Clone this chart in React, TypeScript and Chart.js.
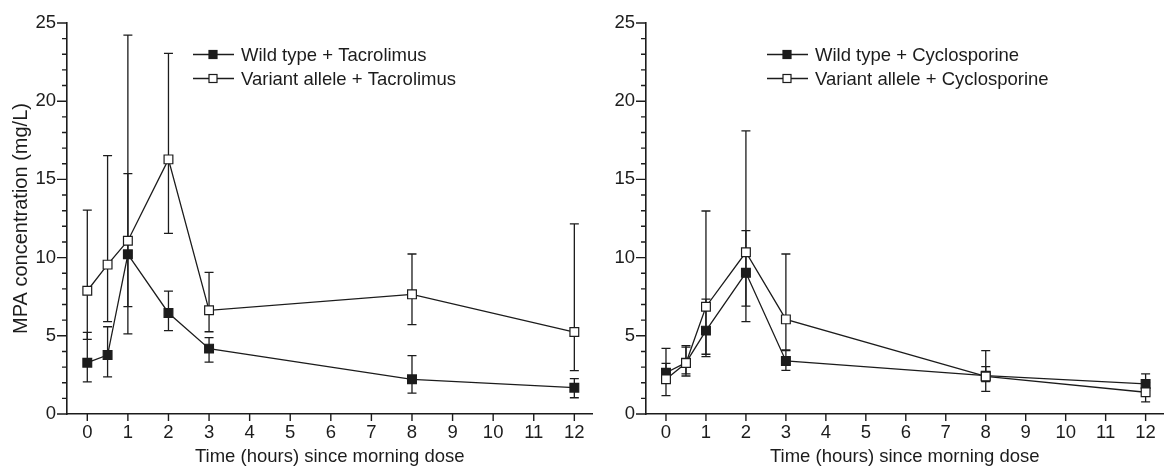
import React, { useEffect, useRef } from "react";
import { Chart, registerables } from "chart.js";

Chart.register(...registerables);

// ---------- data ----------
const TIMES = [0, 0.5, 1, 2, 3, 8, 12];
const X_TICKS = [0, 1, 2, 3, 4, 5, 6, 7, 8, 9, 10, 11, 12];
const Y_TICKS = [0, 5, 10, 15, 20, 25];
const Y_MINOR = [0, 1, 2, 3, 4, 5, 6, 7, 8, 9, 10, 11, 12, 13, 14, 15, 16, 17, 18, 19, 20, 21, 22, 23, 24, 25];

const X_TITLE = "Time (hours) since morning dose";
const Y_TITLE = "MPA concentration (mg/L)";

// Tacrolimus panel
const WT_TAC_LABEL = "Wild type + Tacrolimus";
const WT_TAC = [3.28, 3.77, 10.21, 6.46, 4.18, 2.22, 1.68];
const WT_TAC_LOW = [2.05, 2.38, 5.12, 5.33, 3.32, 1.34, 1.04];
const WT_TAC_HIGH = [5.22, 5.58, 15.37, 7.86, 4.88, 3.73, 2.26];

const VAR_TAC_LABEL = "Variant allele + Tacrolimus";
const VAR_TAC = [7.88, 9.55, 11.08, 16.28, 6.63, 7.65, 5.24];
const VAR_TAC_LOW = [4.77, 5.9, 6.86, 11.55, 5.26, 5.71, 2.77];
const VAR_TAC_HIGH = [13.04, 16.52, 24.23, 23.06, 9.06, 10.23, 12.15];

// Cyclosporine panel
const WT_CYC_LABEL = "Wild type + Cyclosporine";
const WT_CYC = [2.64, 3.28, 5.33, 9.03, 3.39, 2.45, 1.92];
const WT_CYC_LOW = [2.05, 2.56, 3.82, 6.9, 2.79, 2.07, 1.5];
const WT_CYC_HIGH = [3.24, 4.27, 7.35, 11.72, 4.05, 3.03, 2.56];

const VAR_CYC_LABEL = "Variant allele + Cyclosporine";
const VAR_CYC = [2.22, 3.26, 6.86, 10.34, 6.05, 2.4, 1.39];
const VAR_CYC_LOW = [1.17, 2.43, 3.67, 5.9, 4.1, 1.45, 0.77];
const VAR_CYC_HIGH = [4.2, 4.37, 12.98, 18.1, 10.23, 4.05, 2.0];

// ---------- style ----------
const FONT = "'Liberation Sans', Arial, sans-serif";
const FONT_SIZE = 18.5;
const Y_TITLE_SIZE = 20;
const INK = "#1c1c1c";

type Series = {
  label: string;
  values: number[];
  low: number[];
  high: number[];
  filled: boolean;
};

type PanelProps = {
  width: number;
  height: number;
  plotLeft: number;
  plotRight: number;
  legendX: number;
  showYTitle: boolean;
  series: Series[];
};

function Panel({ width, height, plotLeft, plotRight, legendX, showYTitle, series }: PanelProps) {
  const ref = useRef<HTMLCanvasElement | null>(null);

  useEffect(() => {
    if (!ref.current) return;

    const errorBars = {
      id: "errorBars",
      beforeDatasetsDraw(chart: any) {
        const { ctx } = chart;
        const xs = chart.scales.x;
        const ys = chart.scales.y;
        ctx.save();
        ctx.strokeStyle = INK;
        ctx.lineWidth = 1.3;
        series.forEach((s) => {
          TIMES.forEach((t, i) => {
            const px = xs.getPixelForValue(t);
            const pl = ys.getPixelForValue(s.low[i]);
            const ph = ys.getPixelForValue(s.high[i]);
            ctx.beginPath();
            ctx.moveTo(px, pl);
            ctx.lineTo(px, ph);
            ctx.moveTo(px - 4.5, pl);
            ctx.lineTo(px + 4.5, pl);
            ctx.moveTo(px - 4.5, ph);
            ctx.lineTo(px + 4.5, ph);
            ctx.stroke();
          });
        });
        ctx.restore();
      },
    };

    const axisTicks = {
      id: "axisTicks",
      afterDraw(chart: any) {
        const { ctx, chartArea } = chart;
        const xs = chart.scales.x;
        const ys = chart.scales.y;
        ctx.save();
        ctx.strokeStyle = INK;
        ctx.lineWidth = 1.4;
        ctx.beginPath();
        X_TICKS.forEach((v) => {
          const px = xs.getPixelForValue(v);
          ctx.moveTo(px, chartArea.bottom);
          ctx.lineTo(px, chartArea.bottom + 7);
        });
        Y_MINOR.forEach((v) => {
          const py = ys.getPixelForValue(v);
          const len = v % 5 === 0 ? 10 : 5;
          ctx.moveTo(chartArea.left - len, py);
          ctx.lineTo(chartArea.left, py);
        });
        ctx.stroke();
        ctx.restore();
      },
    };

    const legend = {
      id: "customLegend",
      afterDraw(chart: any) {
        const { ctx } = chart;
        ctx.save();
        series.forEach((s, r) => {
          const y = 54.5 + r * 24;
          ctx.strokeStyle = INK;
          ctx.lineWidth = 1.3;
          ctx.beginPath();
          ctx.moveTo(legendX, y);
          ctx.lineTo(legendX + 41, y);
          ctx.stroke();
          ctx.fillStyle = s.filled ? INK : "#ffffff";
          ctx.fillRect(legendX + 16, y - 4, 8, 8);
          ctx.lineWidth = 1.2;
          ctx.strokeRect(legendX + 16, y - 4, 8, 8);
          ctx.fillStyle = INK;
          ctx.font = `${FONT_SIZE}px ${FONT}`;
          ctx.textBaseline = "middle";
          ctx.textAlign = "left";
          ctx.fillText(s.label, legendX + 48, y + 1);
        });
        ctx.restore();
      },
    };

    const chart = new Chart(ref.current, {
      type: "line",
      data: {
        datasets: series.map((s) => ({
          label: s.label,
          data: TIMES.map((t, i) => ({ x: t, y: s.values[i] })),
          borderColor: INK,
          borderWidth: 1.3,
          pointStyle: "rect",
          pointRadius: 6.2,
          pointHoverRadius: 6.2,
          pointBorderWidth: 1.2,
          pointBackgroundColor: s.filled ? INK : "#ffffff",
          pointBorderColor: INK,
          fill: false,
          tension: 0,
          order: s.filled ? 1 : 0,
        })),
      },
      options: {
        responsive: false,
        animation: false,
        events: [],
        layout: { padding: { top: 23, right: width - plotRight, left: 0, bottom: 0 } },
        plugins: { legend: { display: false }, tooltip: { enabled: false } },
        scales: {
          x: {
            type: "linear",
            min: -0.5,
            max: 12.45,
            afterBuildTicks: (sc: any) => {
              sc.ticks = X_TICKS.map((v) => ({ value: v }));
            },
            afterFit: (sc: any) => {
              sc.height = 54;
            },
            grid: { display: false, drawTicks: false },
            border: { display: true, color: INK, width: 1.6 },
            ticks: {
              color: INK,
              font: { family: FONT, size: FONT_SIZE },
              padding: 8,
              maxRotation: 0,
              autoSkip: false,
            },
            title: {
              display: true,
              text: X_TITLE,
              color: INK,
              font: { family: FONT, size: FONT_SIZE },
              padding: { top: 0, bottom: 0 },
            },
          },
          y: {
            type: "linear",
            min: 0,
            max: 25,
            afterBuildTicks: (sc: any) => {
              sc.ticks = Y_TICKS.map((v) => ({ value: v }));
            },
            afterFit: (sc: any) => {
              sc.width = plotLeft;
            },
            grid: { display: false, drawTicks: false },
            border: { display: true, color: INK, width: 1.6 },
            ticks: {
              color: INK,
              font: { family: FONT, size: FONT_SIZE },
              padding: 11,
            },
            title: {
              display: showYTitle,
              text: Y_TITLE,
              color: INK,
              font: { family: FONT, size: Y_TITLE_SIZE },
              padding: { top: 9, bottom: 0 },
            },
          },
        },
      } as any,
      plugins: [errorBars, axisTicks, legend],
    });

    return () => chart.destroy();
  }, []);

  return <canvas ref={ref} width={width} height={height} style={{ display: "block" }} />;
}

const TAC_SERIES: Series[] = [
  { label: WT_TAC_LABEL, values: WT_TAC, low: WT_TAC_LOW, high: WT_TAC_HIGH, filled: true },
  { label: VAR_TAC_LABEL, values: VAR_TAC, low: VAR_TAC_LOW, high: VAR_TAC_HIGH, filled: false },
];

const CYC_SERIES: Series[] = [
  { label: WT_CYC_LABEL, values: WT_CYC, low: WT_CYC_LOW, high: WT_CYC_HIGH, filled: true },
  { label: VAR_CYC_LABEL, values: VAR_CYC, low: VAR_CYC_LOW, high: VAR_CYC_HIGH, filled: false },
];

export default function App() {
  return (
    <div
      style={{
        position: "absolute",
        left: 0,
        top: 0,
        width: 1171,
        height: 468,
        background: "#ffffff",
        overflow: "hidden",
      }}
    >
      <div style={{ position: "absolute", left: 0, top: 0 }}>
        <Panel
          width={600}
          height={468}
          plotLeft={67}
          plotRight={593}
          legendX={193}
          showYTitle={true}
          series={TAC_SERIES}
        />
      </div>
      <div style={{ position: "absolute", left: 600, top: 0 }}>
        <Panel
          width={571}
          height={468}
          plotLeft={46}
          plotRight={570}
          legendX={167}
          showYTitle={false}
          series={CYC_SERIES}
        />
      </div>
    </div>
  );
}
